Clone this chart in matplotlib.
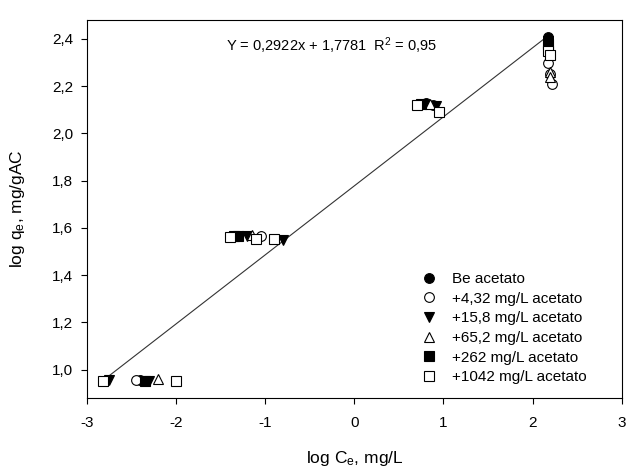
import numpy as np
import matplotlib.pyplot as plt
from matplotlib.ticker import FuncFormatter

plt.rcParams['font.family'] = ['Liberation Sans', 'DejaVu Sans']
plt.rcParams['mathtext.fontset'] = 'custom'
plt.rcParams['mathtext.rm'] = 'Liberation Sans'
plt.rcParams['mathtext.it'] = 'Liberation Sans'

# log Ce / log qe for each acetate dose
be_x = [-2.40, 0.80, 2.17, 2.17]
be_y = [0.955, 2.13, 2.40, 2.41]

a432_x = [-2.45, -1.05, 0.88, 2.17, 2.20, 2.22]
a432_y = [0.955, 1.565, 2.12, 2.30, 2.25, 2.21]

a158_x = [-2.75, -2.30, -1.20, -0.80, 0.92, 2.17]
a158_y = [0.955, 0.950, 1.565, 1.550, 2.115, 2.39]

a652_x = [-2.20, -1.15, 0.85, 2.20, 2.20]
a652_y = [0.960, 1.570, 2.125, 2.26, 2.24]

a262_x = [-2.35, -1.35, -1.30, 0.75, 2.17]
a262_y = [0.950, 1.565, 1.565, 2.125, 2.38]

a1042_x = [-2.82, -2.00, -1.40, -1.10, -0.90, 0.70, 0.95, 2.17, 2.19]
a1042_y = [0.950, 0.950, 1.560, 1.555, 1.555, 2.120, 2.090, 2.35, 2.33]

labels = ['Be acetato', '+4,32 mg/L acetato', '+15,8 mg/L acetato',
          '+65,2 mg/L acetato', '+262 mg/L acetato', '+1042 mg/L acetato']

slope = 0.2922
intercept = 1.7781
r2 = 0.95
fit_range = [-2.82, 2.17]

fig = plt.figure(figsize=(6.28, 4.71), dpi=100)
ax = fig.add_axes([0.1385, 0.155, 0.8515, 0.8025])

fx = np.array(fit_range)
ax.plot(fx, slope * fx + intercept, color='#333333', lw=0.8, zorder=1)

ms = 7
styles = [
    (be_x, be_y, 'o', 'black'),
    (a432_x, a432_y, 'o', 'white'),
    (a158_x, a158_y, 'v', 'black'),
    (a652_x, a652_y, '^', 'white'),
    (a262_x, a262_y, 's', 'black'),
    (a1042_x, a1042_y, 's', 'white'),
]
for (x, y, m, fc), lab in zip(styles, labels):
    ax.plot(x, y, linestyle='none', marker=m, ms=ms, mfc=fc, mec='black',
            mew=0.8, label=lab, zorder=3)

ax.text(-0.25, 2.37, 'Y = 0,2922x + 1,7781  R$^2$ = 0,95',
        ha='center', va='center', fontsize=10.5)

ax.set_xlim(-3, 3)
ax.set_ylim(0.88, 2.48)
ax.set_xticks(range(-3, 4))
ax.set_yticks(np.arange(1.0, 2.41, 0.2))
ax.yaxis.set_major_formatter(FuncFormatter(lambda v, p: f'{v:.1f}'.replace('.', ',')))
ax.xaxis.set_major_formatter(FuncFormatter(lambda v, p: f'{v:.0f}'))
ax.tick_params(direction='out', length=4, width=0.8, labelsize=11)
ax.tick_params(axis='x', pad=9)
ax.tick_params(axis='y', pad=6)
for s in ax.spines.values():
    s.set_linewidth(0.8)

ax.set_xlabel('log C$_e$, mg/L', fontsize=12.5, labelpad=14)
ax.set_ylabel('log q$_e$, mg/gAC', fontsize=12.5, labelpad=18)

ax.legend(loc='lower right', bbox_to_anchor=(0.946, 0.02), frameon=False,
          fontsize=11, handletextpad=0.9, labelspacing=0.37,
          borderaxespad=0, handlelength=1.2)

fig.savefig('out.png', dpi=100)
